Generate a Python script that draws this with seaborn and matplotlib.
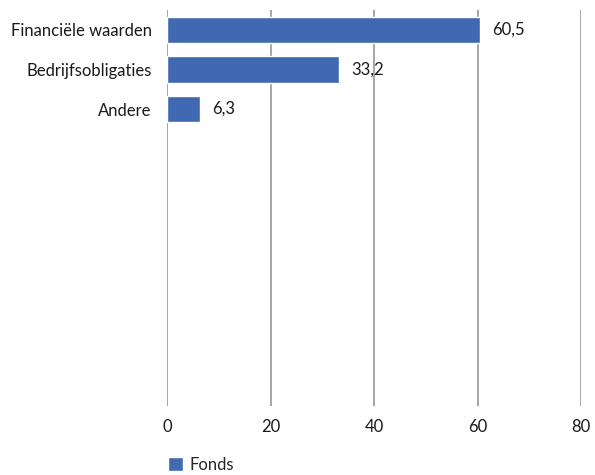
import pandas as pd
import matplotlib.pyplot as plt
import seaborn as sns

# Gegevens
categorieen = ['Financiële waarden', 'Bedrijfsobligaties', 'Andere']
waarden = [60.5, 33.2, 6.3]
reeks = 'Fonds'
x_ticks = [0, 20, 40, 60, 80]

df = pd.DataFrame({'Categorie': categorieen, 'Waarde': waarden, 'Reeks': reeks})

sns.set_theme(style='white')
plt.rcParams['font.family'] = ['Lato', 'DejaVu Sans']

fig = plt.figure(figsize=(5.95, 4.75), dpi=100)
ax = fig.add_axes([0.2807, 0.145, 0.6958, 0.834])

kleur = '#4169B1'
fs = 12
sns.barplot(data=df, y='Categorie', x='Waarde', hue='Reeks', palette=[kleur],
            orient='h', width=0.67, saturation=1, ax=ax, zorder=3)

# as met 10 plaatsen, waarvan alleen de bovenste 3 gevuld
ax.set_ylim(9.5, -0.5)
ax.set_xlim(0, 80)
ax.set_xticks(x_ticks)
ax.set_xticklabels([str(t) for t in x_ticks], fontsize=fs, color='#1a1a1a')
ax.tick_params(axis='x', length=0, pad=9)
ax.tick_params(axis='y', length=0, pad=11, labelsize=fs, labelcolor='#1a1a1a')
ax.set_xlabel('')
ax.set_ylabel('')
ax.grid(axis='x', color='#A6A6A6', linewidth=1.4, zorder=0)
ax.grid(axis='y', visible=False)
ax.set_axisbelow(True)
for s in ax.spines.values():
    s.set_visible(False)

# waardelabels
for cont in ax.containers:
    ax.bar_label(cont, labels=[f'{v:.1f}'.replace('.', ',') for v in waarden],
                 padding=9, fontsize=fs, color='#1a1a1a')

leg = ax.legend(loc='upper left', bbox_to_anchor=(-0.035, -0.09), frameon=False,
                fontsize=fs, handlelength=0.9, handleheight=0.9, handletextpad=0.4)

fig.savefig('out.png', dpi=100)
